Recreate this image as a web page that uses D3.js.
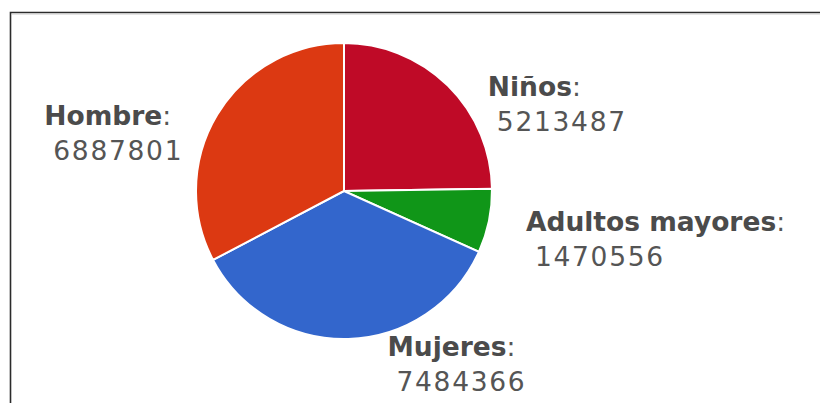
<!DOCTYPE html>
<html>
<head>
<meta charset="utf-8">
<script src="https://cdn.jsdelivr.net/npm/d3@7"></script>
<style>
  body { margin: 0; background: #fff; }
  svg { display: block; }
</style>
</head>
<body>
<div class="chart-box"></div>
<script>
// chart data, order is the order the slices go round (clockwise from 12 o'clock)
var categories = ['Niños', 'Adultos mayores', 'Mujeres', 'Hombre']
var values = [5213487, 1470556, 7484366, 6887801]
var colors = ['#bf0a27', '#109618', '#3366cc', '#dc3912']

var width = 820
var height = 403

var svg = d3.select('.chart-box')
    .append('svg')
    .attr('width', width)
    .attr('height', height)

// the frame, only top and left edges show in the shot
svg.append('path')
    .attr('d', 'M10.5,' + (height + 5) + 'V12.5H' + (width + 5))
    .style('fill', 'none')
    .style('stroke', '#2b2b2b')
    .style('stroke-width', 1.6)
svg.append('path')
    .attr('d', 'M12,14.5H' + (width + 5))
    .style('fill', 'none')
    .style('stroke', '#e4e4e4')
    .style('stroke-width', 1)

var cx = 344
var cy = 191
var radius = 148

var data = categories.map(function (c, i) {
    return { label: c, value: values[i], color: colors[i] }
})

var pie = d3.pie()
    .sort(null)
    .value(function (d) { return d.value })

var arc = d3.arc()
    .innerRadius(0)
    .outerRadius(radius)

var arcs = pie(data)

var g = svg.append('g')
    .attr('transform', 'translate(' + cx + ',' + cy + ')')

g.selectAll('path')
    .data(arcs)
    .enter()
    .append('path')
    .attr('d', arc)
    .style('fill', function (d) { return d.data.color })
    .style('stroke', '#fff')
    .style('stroke-width', 2)

// labels hang off the point on the rim at the middle of each slice
// the bottom one sits a bit lower so it clears the pie
var nudge = { 'Mujeres': [-1, 7], 'Adultos mayores': [-3, 0] }

var labels = g.selectAll('.label')
    .data(arcs)
    .enter()
    .append('text')
    .attr('class', 'label')
    .style('font-family', '"DejaVu Sans", Verdana, sans-serif')
    .style('font-size', '26.5px')

labels.append('tspan')
    .attr('class', 'name')
    .style('font-weight', 'bold')
    .style('fill', '#4b4b4b')
    .text(function (d) { return d.data.label })
labels.append('tspan')
    .style('fill', '#555')
    .text(':')
labels.append('tspan')
    .attr('class', 'num')
    .attr('dy', 35)
    .style('fill', '#555')
    .style('letter-spacing', '1.7px')
    .text(function (d) { return d.data.value })

labels.each(function (d) {
    var el = d3.select(this)
    var a = (d.startAngle + d.endAngle) / 2
    var px = radius * Math.sin(a)
    var py = -radius * Math.cos(a)
    var nameW = el.select('.name').node().getComputedTextLength() + 9
    var n = nudge[d.data.label] || [0, 0]
    var x = Math.sin(a) >= 0 ? px + 40 : px - 46 - nameW
    x += n[0]
    var y = py + 10 + n[1]
    el.attr('x', x).attr('y', y)
    el.select('.name').attr('x', x)
    el.select('.num').attr('x', x + 9)
})
</script>
</body>
</html>
